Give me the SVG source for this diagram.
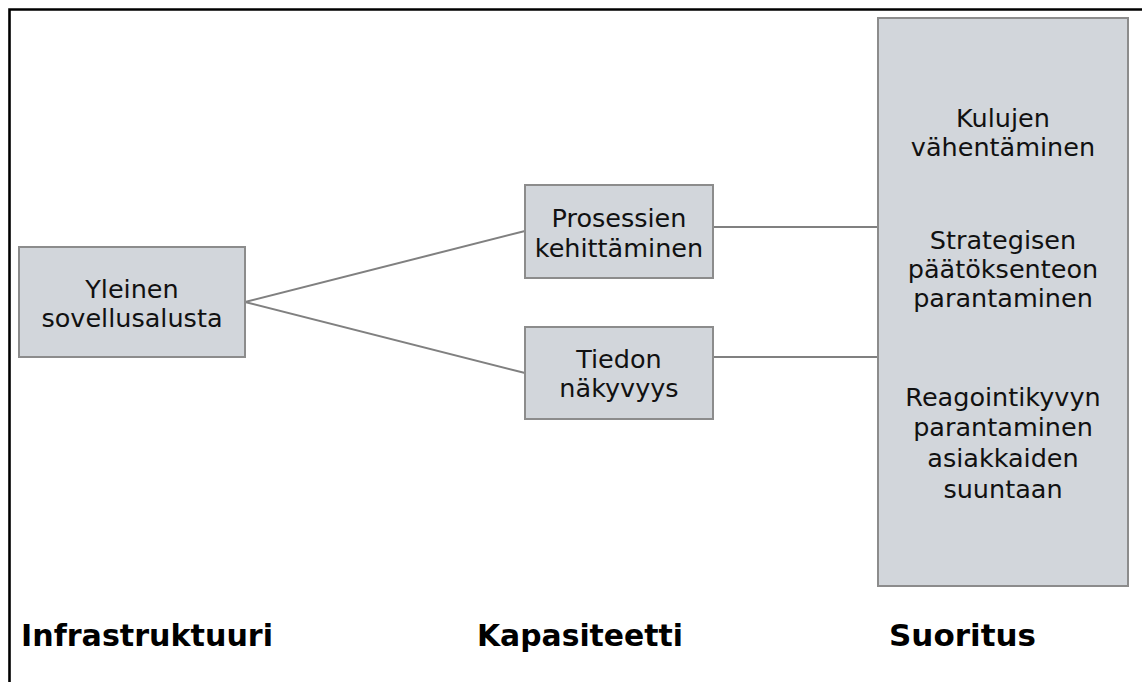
<svg xmlns="http://www.w3.org/2000/svg" width="1142" height="682" viewBox="0 0 1142 682">
  <style>
    .box { fill: #d2d6db; stroke: #8c8c8c; stroke-width: 2; }
    .lbl { font-family: "DejaVu Sans", Verdana, sans-serif; font-size: 25.5px; fill: #111; text-anchor: middle; }
    .head { font-family: "DejaVu Sans", Verdana, sans-serif; font-size: 30px; font-weight: bold; fill: #000; }
    .conn { stroke: #808080; stroke-width: 2; fill: none; }
  </style>
  <rect width="1142" height="682" fill="#fff"/>
  <!-- outer frame, open to the right and bottom -->
  <path d="M9.5 682 V9.5 H1142" fill="none" stroke="#000" stroke-width="2.6"/>

  <g id="connectors">
    <line class="conn" x1="245" y1="302" x2="525" y2="231"/>
    <line class="conn" x1="245" y1="302" x2="525" y2="373"/>
    <line class="conn" x1="713" y1="227" x2="877" y2="227"/>
    <line class="conn" x1="713" y1="357" x2="877" y2="357"/>
  </g>

  <g id="node-yleinen">
    <rect class="box" x="19" y="247" width="226" height="110"/>
    <text class="lbl" x="132" y="298">Yleinen</text>
    <text class="lbl" x="132" y="327">sovellusalusta</text>
  </g>

  <g id="node-prosessien">
    <rect class="box" x="525" y="185" width="188" height="93"/>
    <text class="lbl" x="619" y="227">Prosessien</text>
    <text class="lbl" x="619" y="257">kehittäminen</text>
  </g>

  <g id="node-tiedon">
    <rect class="box" x="525" y="327" width="188" height="92"/>
    <text class="lbl" x="619" y="368">Tiedon</text>
    <text class="lbl" x="619" y="397">näkyvyys</text>
  </g>

  <g id="node-suoritus">
    <rect class="box" x="878" y="18" width="250" height="568"/>
    <text class="lbl" x="1003" y="127">Kulujen</text>
    <text class="lbl" x="1003" y="156">vähentäminen</text>
    <text class="lbl" x="1003" y="249">Strategisen</text>
    <text class="lbl" x="1003" y="278">päätöksenteon</text>
    <text class="lbl" x="1003" y="307">parantaminen</text>
    <text class="lbl" x="1003" y="406">Reagointikyvyn</text>
    <text class="lbl" x="1003" y="436">parantaminen</text>
    <text class="lbl" x="1003" y="467">asiakkaiden</text>
    <text class="lbl" x="1003" y="498">suuntaan</text>
  </g>

  <g id="headings">
    <text class="head" x="21" y="646" textLength="252" lengthAdjust="spacingAndGlyphs">Infrastruktuuri</text>
    <text class="head" x="477" y="646" textLength="206" lengthAdjust="spacingAndGlyphs">Kapasiteetti</text>
    <text class="head" x="889" y="646" textLength="147" lengthAdjust="spacingAndGlyphs">Suoritus</text>
  </g>
</svg>
